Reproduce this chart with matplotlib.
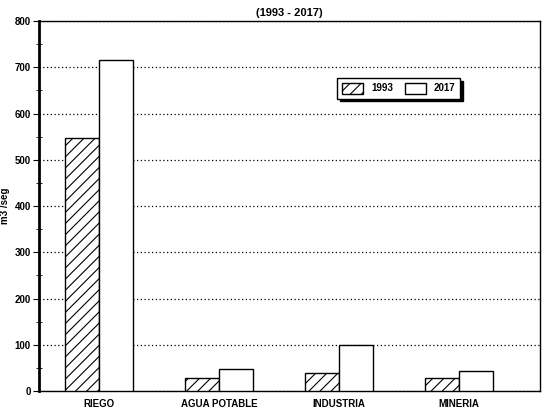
import numpy as np
import matplotlib.pyplot as plt
from matplotlib.ticker import MultipleLocator

categories = ['RIEGO', 'AGUA POTABLE', 'INDUSTRIA', 'MINERIA']
values_1993 = [547, 28, 39, 28]
values_2017 = [716, 48, 100, 43]

plt.rcParams['font.family'] = 'Liberation Sans'
plt.rcParams['font.weight'] = 'bold'
plt.rcParams['hatch.linewidth'] = 0.8

fig = plt.figure(figsize=(5.47, 4.11), dpi=100)
ax = fig.add_axes([0.0713, 0.0487, 0.916, 0.9])

x = np.arange(len(categories))
w = 0.28
ax.bar(x - w / 2, values_1993, w, color='white', edgecolor='black',
       hatch='///', linewidth=1, label='1993', zorder=3)
ax.bar(x + w / 2, values_2017, w, color='white', edgecolor='black',
       linewidth=1, label='2017', zorder=3)

ax.set_xlim(-0.5, 3.675)
ax.set_ylim(0, 800)
ax.yaxis.set_major_locator(MultipleLocator(100))
ax.yaxis.set_minor_locator(MultipleLocator(50))
ax.set_xticks(x)
ax.set_xticklabels(categories, fontsize=7, fontweight='bold')
ax.tick_params(axis='x', length=0, pad=6)
ax.tick_params(axis='y', labelsize=7, direction='out', length=4, pad=2)
ax.tick_params(axis='y', which='minor', direction='inout', length=4)
ax.yaxis.grid(True, which='major', linestyle=(0, (1, 2)), color='black',
              linewidth=0.9, zorder=0)
ax.set_ylabel('m3 /seg', fontsize=7, fontweight='bold', labelpad=3)
ax.set_title('(1993 - 2017)', fontsize=8, fontweight='bold', pad=4)
for s in ax.spines.values():
    s.set_linewidth(1)
ax.spines['left'].set_linewidth(2)

leg = ax.legend(loc='upper left', bbox_to_anchor=(0.585, 0.86), ncol=2,
                fontsize=7, frameon=True, fancybox=False,
                shadow={'color': 'black', 'alpha': 1},
                handlelength=2.2, handleheight=1.4, columnspacing=1.2,
                borderpad=0.5)
leg.get_frame().set_edgecolor('black')
leg.get_frame().set_linewidth(1)

fig.savefig('out.png', dpi=100)
